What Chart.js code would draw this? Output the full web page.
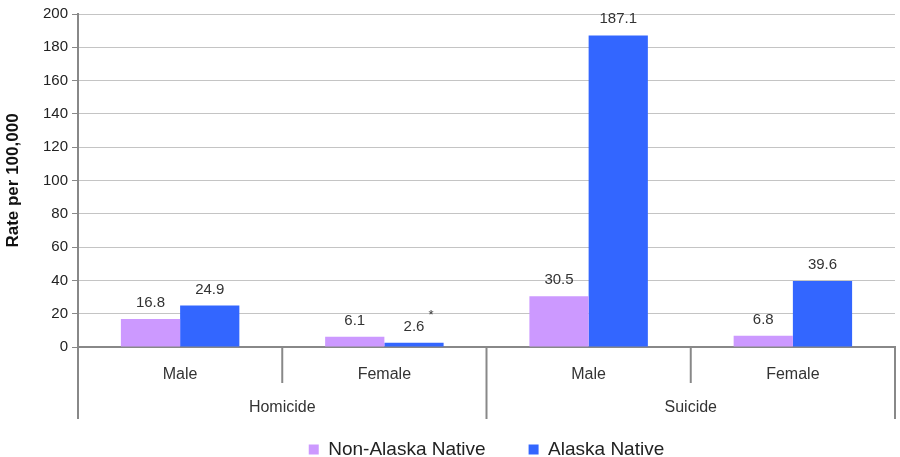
<!DOCTYPE html>
<html>
<head>
<meta charset="utf-8">
<script src="https://cdn.jsdelivr.net/npm/chart.js@4.4.0/dist/chart.umd.min.js"></script>
<style>
  html, body { margin: 0; padding: 0; background: #fff; overflow: hidden; }
  #wrap { width: 900px; height: 472px; position: relative; }
</style>
</head>
<body>
<div id="wrap"><canvas id="rate-chart"></canvas></div>
<script>
// Data
const causes = ['Homicide', 'Suicide'];
const sexes = ['Male', 'Female', 'Male', 'Female'];
const nonNativeRates = [16.8, 6.1, 30.5, 6.8];
const nativeRates = [24.9, 2.6, 187.1, 39.6];
const nativeNotes = ['', '*', '', ''];
const yMin = 0, yMax = 200, yStep = 20;

Chart.defaults.font.family = "'Liberation Sans', Arial, sans-serif";
Chart.defaults.color = '#333';

// Value labels above each bar (plus the little asterisk note)
const valueLabels = {
    id: 'valueLabels',
    afterDatasetsDraw(chart) {
        const ctx = chart.ctx;
        ctx.save();
        ctx.fillStyle = '#333';
        ctx.textAlign = 'center';
        ctx.textBaseline = 'alphabetic';
        chart.data.datasets.forEach((ds, di) => {
            const meta = chart.getDatasetMeta(di);
            meta.data.forEach((bar, i) => {
                const txt = ds.data[i].toFixed(1);
                ctx.font = "15px 'Liberation Sans', Arial, sans-serif";
                ctx.fillText(txt, bar.x, bar.y - 12);
                const note = ds.notes ? ds.notes[i] : '';
                if (note) {
                    const w = ctx.measureText(txt).width;
                    ctx.font = "13px 'Liberation Sans', Arial, sans-serif";
                    ctx.textAlign = 'left';
                    ctx.fillText(note, bar.x + w / 2 + 4, bar.y - 24);
                    ctx.textAlign = 'center';
                }
            });
        });
        ctx.restore();
    }
};

// Two-level category axis: divider lines + cause labels
const categoryGroups = {
    id: 'categoryGroups',
    afterDraw(chart) {
        const x = chart.scales.x;
        const ctx = chart.ctx;
        const top = x.top;
        const half = (x.getPixelForValue(1) - x.getPixelForValue(0)) / 2;
        ctx.save();
        ctx.strokeStyle = '#888';
        ctx.lineWidth = 2;
        for (let i = 0; i <= sexes.length; i++) {
            const px = i < sexes.length ? x.getPixelForValue(i) - half : x.getPixelForValue(i - 1) + half;
            const len = i % 2 === 0 ? 72 : 36;
            ctx.beginPath();
            ctx.moveTo(px, top);
            ctx.lineTo(px, top + len);
            ctx.stroke();
        }
        ctx.fillStyle = '#333';
        ctx.font = "16px 'Liberation Sans', Arial, sans-serif";
        ctx.textAlign = 'center';
        ctx.textBaseline = 'middle';
        causes.forEach((c, g) => {
            const cx = (x.getPixelForValue(g * 2) + x.getPixelForValue(g * 2 + 1)) / 2;
            ctx.fillText(c, cx, top + 61);
        });
        ctx.restore();
    }
};

const ctx = document.getElementById('rate-chart').getContext('2d');
new Chart(ctx, {
    type: 'bar',
    data: {
        labels: sexes,
        datasets: [{
            label: 'Non-Alaska Native',
            data: nonNativeRates,
            backgroundColor: '#cc99ff',
            categoryPercentage: 0.58,
            barPercentage: 1.0
        }, {
            label: 'Alaska Native',
            data: nativeRates,
            notes: nativeNotes,
            backgroundColor: '#3366ff',
            categoryPercentage: 0.58,
            barPercentage: 1.0
        }]
    },
    options: {
        responsive: true,
        maintainAspectRatio: false,
        animation: false,
        layout: {
            padding: { top: 14, right: 5, bottom: 3, left: 0 }
        },
        scales: {
            x: {
                grid: { display: false },
                border: { color: '#888', width: 2 },
                ticks: {
                    padding: 10,
                    font: { size: 16 },
                    color: '#333'
                },
                afterFit(scale) { scale.height = 50; }
            },
            y: {
                min: yMin,
                max: yMax,
                ticks: {
                    stepSize: yStep,
                    padding: 4,
                    font: { size: 15 },
                    color: '#222'
                },
                grid: {
                    color: '#c4c4c4',
                    tickColor: '#888',
                    tickLength: 6
                },
                border: { color: '#888', width: 2 },
                title: {
                    display: true,
                    text: 'Rate per 100,000',
                    font: { size: 17, weight: 'bold' },
                    color: '#111',
                    padding: { top: 3, bottom: 0 }
                },
                afterFit(scale) { scale.width = 78; }
            }
        },
        plugins: {
            legend: {
                position: 'bottom',
                fullSize: false,
                labels: {
                    boxWidth: 10,
                    boxHeight: 10,
                    padding: 43,
                    color: '#222',
                    font: { size: 19 }
                }
            },
            tooltip: { enabled: false }
        }
    },
    plugins: [valueLabels, categoryGroups]
});
</script>
</body>
</html>
